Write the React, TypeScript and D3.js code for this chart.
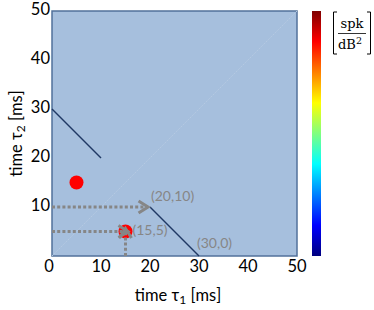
import { scaleLinear } from 'd3'

// axis ticks (ms); the y axis leaves out the shared 0
const xTicks = [0, 10, 20, 30, 40, 50]
const yTicks = [10, 20, 30, 40, 50]

// red points [tau1, tau2]
const points = [
  [5, 15],
  [15, 5],
]

// dark solid segments
const segments = [
  [[0, 30], [10, 20]],
  [[20, 10], [30, 0]],
]

// dotted arrows [from, to]
const arrows = [
  [[0, 10], [19.6, 10]],
  [[0, 5], [15.5, 5]],
  [[15, 0], [15, 5.6]],
]

// annotation labels, with pixel nudges
const labels = [
  { text: '(20,10)', at: [20, 10], dx: 1, dy: -10 },
  { text: '(15,5)', at: [15, 5], dx: 7, dy: 0 },
  { text: '(30,0)', at: [30, 0], dx: -2, dy: -12 },
]

// jet colour map stops
const jetStops = [0, 0.125, 0.375, 0.625, 0.875, 1]
const jetColors = ['#00007f', '#0000ff', '#00ffff', '#ffff00', '#ff0000', '#7f0000']

const W = 374
const H = 310
const font = 'Lato, "Open Sans", sans-serif'
const grey = '#868686'

export default function App() {
  const x = scaleLinear().domain([0, 50]).range([52, 297])
  const y = scaleLinear().domain([0, 50]).range([256, 11])
  const cbY = scaleLinear().domain([0, 1]).range([256, 11])

  return (
    <svg width={W} height={H} style={{ position: 'absolute', left: 0, top: 0 }}>
      <defs>
        <linearGradient id="jet" x1="0" y1="1" x2="0" y2="0">
          {jetStops.map((s, i) => (
            <stop key={i} offset={s} stopColor={jetColors[i]} />
          ))}
        </linearGradient>
        <marker
          id="chev"
          viewBox="-14 -10 20 20"
          refX={0}
          refY={0}
          markerWidth={20}
          markerHeight={20}
          markerUnits="userSpaceOnUse"
          orient="auto"
        >
          <path d="M-9.5,-6 L0,0 L-9.5,6" fill="none" stroke={grey} strokeWidth={3} />
        </marker>
      </defs>

      {/* plot area */}
      <rect
        x={x(0)}
        y={y(50)}
        width={x(50) - x(0)}
        height={y(0) - y(50)}
        fill="#a6bfdd"
        stroke="#52719b"
        strokeWidth={1.5}
      />
      {/* faint diagonal */}
      <line
        x1={x(0)}
        y1={y(0)}
        x2={x(50)}
        y2={y(50)}
        stroke="#b6cae2"
        strokeWidth={1}
        strokeDasharray="1.5,1"
      />

      {segments.map((s, i) => (
        <line
          key={i}
          x1={x(s[0][0])}
          y1={y(s[0][1])}
          x2={x(s[1][0])}
          y2={y(s[1][1])}
          stroke="#1f3864"
          strokeWidth={1.5}
        />
      ))}

      {points.map((p, i) => (
        <circle key={i} cx={x(p[0])} cy={y(p[1])} r={7} fill="#ff0000" />
      ))}

      {arrows.map((a, i) => (
        <line
          key={i}
          x1={x(a[0][0])}
          y1={y(a[0][1])}
          x2={x(a[1][0])}
          y2={y(a[1][1])}
          stroke={grey}
          strokeWidth={3}
          strokeDasharray="3,2.2"
          markerEnd="url(#chev)"
        />
      ))}

      {labels.map((l, i) => (
        <text
          key={i}
          x={x(l.at[0]) + l.dx}
          y={y(l.at[1]) + l.dy}
          fill={grey}
          fontFamily={font}
          fontSize={14}
          dominantBaseline="middle"
        >
          {l.text}
        </text>
      ))}

      {/* axes tick labels */}
      {xTicks.map((t) => (
        <text
          key={'x' + t}
          x={x(t) - (t === 0 ? 3 : 0)}
          y={268}
          textAnchor="middle"
          dominantBaseline="middle"
          fontFamily={font}
          fontSize={16.5}
          fill="#000"
        >
          {t}
        </text>
      ))}
      {yTicks.map((t) => (
        <text
          key={'y' + t}
          x={50}
          y={y(t)}
          textAnchor="end"
          dominantBaseline="middle"
          fontFamily={font}
          fontSize={16.5}
          fill="#000"
        >
          {t}
        </text>
      ))}

      {/* axis titles */}
      <text x={178} y={301} textAnchor="middle" fontFamily={font} fontSize={16.5} fill="#000">
        time τ<tspan fontSize={12} dy={3}>1</tspan>
        <tspan dy={-3}> [ms]</tspan>
      </text>
      <text
        transform={`translate(22,${(y(0) + y(50)) / 2}) rotate(-90)`}
        textAnchor="middle"
        fontFamily={font}
        fontSize={16.5}
        fill="#000"
      >
        time τ<tspan fontSize={12} dy={3}>2</tspan>
        <tspan dy={-3}> [ms]</tspan>
      </text>

      {/* colour bar */}
      <rect x={312} y={cbY(1)} width={9} height={cbY(0) - cbY(1)} fill="url(#jet)" />

      {/* unit */}
      <g fontFamily='"DejaVu Serif", "Liberation Serif", serif' fill="#000">
        <path d="M337,12 h-3.5 v42 h3.5" fill="none" stroke="#000" strokeWidth={1} />
        <path d="M367,12 h3.5 v42 h-3.5" fill="none" stroke="#000" strokeWidth={1} />
        <text x={352} y={28} textAnchor="middle" fontSize={13}>
          spk
        </text>
        <line x1={338} x2={366} y1={33.5} y2={33.5} stroke="#000" strokeWidth={0.8} />
        <text x={350} y={49} textAnchor="middle" fontSize={13}>
          dB<tspan fontSize={9.5} dy={-5}>2</tspan>
        </text>
      </g>
    </svg>
  )
}
